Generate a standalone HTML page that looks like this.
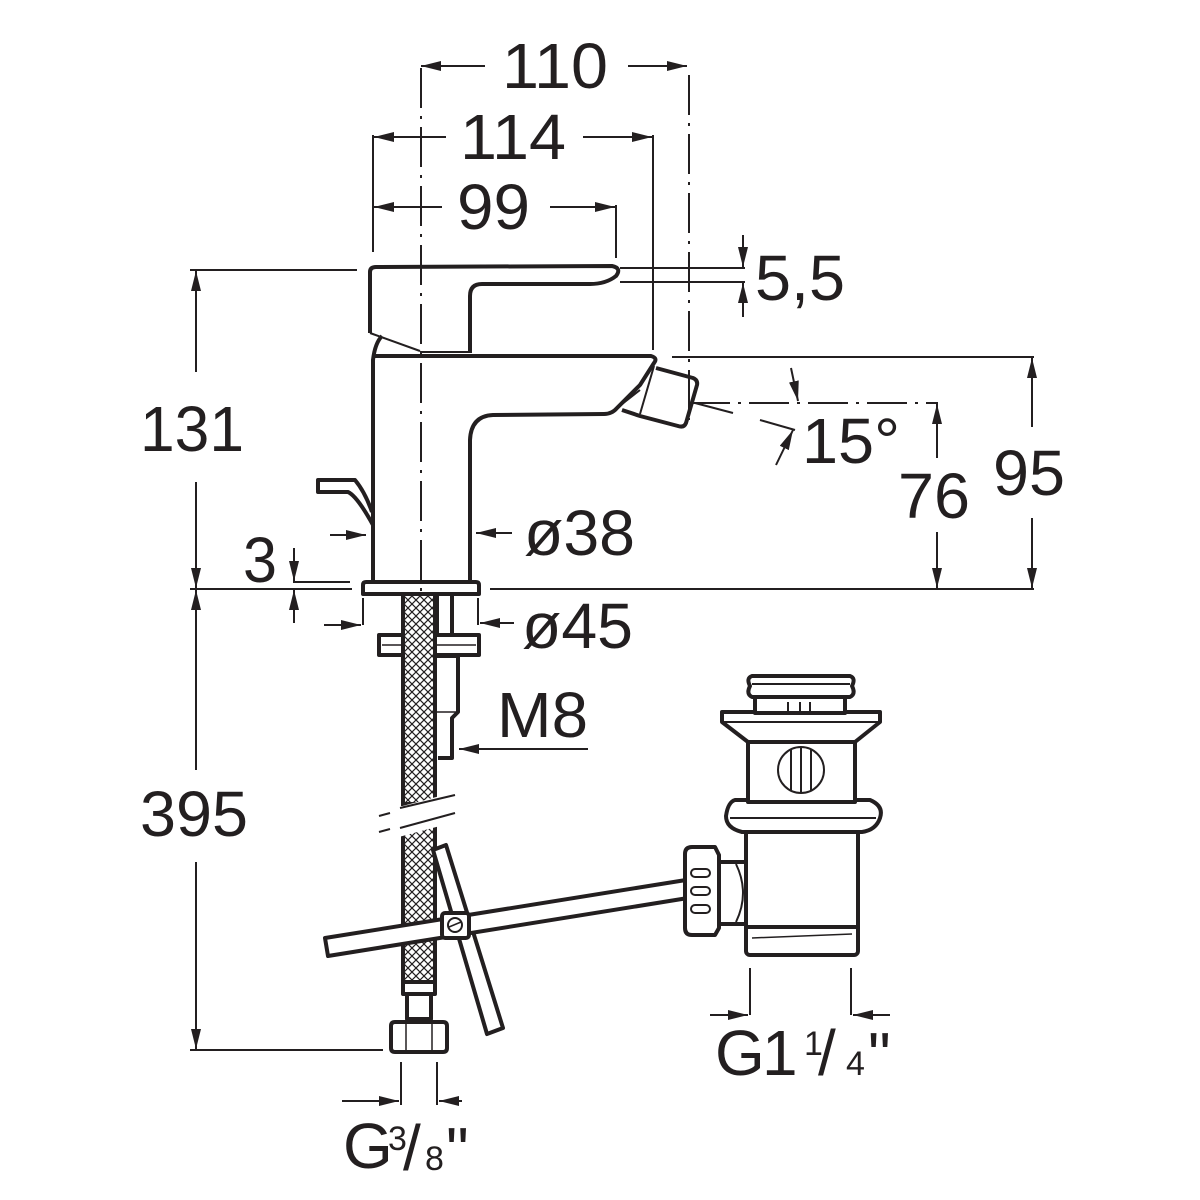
<!DOCTYPE html>
<html><head><meta charset="utf-8"><style>
html,body{margin:0;padding:0;background:#fff;}
svg{display:block;}
text{font-family:"Liberation Sans",Arial,sans-serif;fill:#231f20;}
</style></head><body>
<svg width="1200" height="1200" viewBox="0 0 1200 1200" xmlns="http://www.w3.org/2000/svg">
<defs>
<pattern id="hatch" width="8" height="8" patternUnits="userSpaceOnUse">
<rect width="8" height="8" fill="#fff"/>
<path d="M0 0L8 8M8 0L0 8" stroke="#231f20" stroke-width="1.2"/>
</pattern>
<marker id="ah" viewBox="0 0 20 10" refX="20" refY="5" markerWidth="20" markerHeight="10" markerUnits="userSpaceOnUse" orient="auto">
<path d="M0 0L20 5L0 10Z" fill="#231f20"/>
</marker>
</defs>
<g stroke="#231f20" fill="none" stroke-width="2">
<line x1="421" y1="68" x2="421" y2="1060" stroke-dasharray="40,8,3,8"/>
<line x1="689" y1="75" x2="689" y2="420" stroke-dasharray="40,8,3,8"/>
<line x1="690" y1="403" x2="938" y2="403" stroke-dasharray="40,8,3,8"/>
<line x1="373" y1="135" x2="373" y2="252"/>
<line x1="653" y1="135" x2="653" y2="350"/>
<line x1="616" y1="205" x2="616" y2="258"/>
<line x1="190" y1="270" x2="357" y2="270"/>
<line x1="190" y1="589" x2="352" y2="589"/>
<line x1="490" y1="589" x2="1034" y2="589"/>
<line x1="672" y1="357" x2="1034" y2="357"/>
<line x1="620" y1="268" x2="745" y2="268"/>
<line x1="620" y1="282" x2="745" y2="282"/>
<line x1="293" y1="582" x2="350" y2="582"/>
<line x1="190" y1="1050" x2="383" y2="1050"/>
<line x1="363" y1="598" x2="363" y2="625"/>
<line x1="478" y1="598" x2="478" y2="625"/>
<line x1="401" y1="1062" x2="401" y2="1105"/>
<line x1="437" y1="1062" x2="437" y2="1105"/>
<line x1="750" y1="968" x2="750" y2="1015"/>
<line x1="851" y1="968" x2="851" y2="1015"/>
<line x1="485" y1="66" x2="421" y2="66" marker-end="url(#ah)"/>
<line x1="628" y1="66" x2="687" y2="66" marker-end="url(#ah)"/>
<line x1="446" y1="137" x2="374" y2="137" marker-end="url(#ah)"/>
<line x1="583" y1="137" x2="652" y2="137" marker-end="url(#ah)"/>
<line x1="442" y1="207" x2="374" y2="207" marker-end="url(#ah)"/>
<line x1="550" y1="207" x2="615" y2="207" marker-end="url(#ah)"/>
<line x1="743" y1="235" x2="743" y2="267" marker-end="url(#ah)"/>
<line x1="743" y1="317" x2="743" y2="283" marker-end="url(#ah)"/>
<line x1="196" y1="372" x2="196" y2="271" marker-end="url(#ah)"/>
<line x1="196" y1="482" x2="196" y2="588" marker-end="url(#ah)"/>
<line x1="196" y1="770" x2="196" y2="590" marker-end="url(#ah)"/>
<line x1="196" y1="862" x2="196" y2="1049" marker-end="url(#ah)"/>
<line x1="294" y1="548" x2="294" y2="581" marker-end="url(#ah)"/>
<line x1="294" y1="623" x2="294" y2="590" marker-end="url(#ah)"/>
<line x1="330" y1="535" x2="366" y2="535" marker-end="url(#ah)"/>
<line x1="512" y1="533" x2="476" y2="533" marker-end="url(#ah)"/>
<line x1="324" y1="625" x2="361" y2="625" marker-end="url(#ah)"/>
<line x1="514" y1="623" x2="480" y2="623" marker-end="url(#ah)"/>
<line x1="588" y1="749" x2="459" y2="749" marker-end="url(#ah)"/>
<line x1="1032" y1="427" x2="1032" y2="358" marker-end="url(#ah)"/>
<line x1="1032" y1="518" x2="1032" y2="588" marker-end="url(#ah)"/>
<line x1="937" y1="458" x2="937" y2="404" marker-end="url(#ah)"/>
<line x1="937" y1="532" x2="937" y2="588" marker-end="url(#ah)"/>
<line x1="791" y1="368" x2="798" y2="401" marker-end="url(#ah)"/>
<line x1="776" y1="465" x2="793" y2="430" marker-end="url(#ah)"/>
<line x1="695" y1="403" x2="733" y2="413"/>
<line x1="760" y1="420" x2="795" y2="430"/>
<line x1="342" y1="1101" x2="399" y2="1101" marker-end="url(#ah)"/>
<line x1="462" y1="1101" x2="439" y2="1101" marker-end="url(#ah)"/>
<line x1="710" y1="1015" x2="748" y2="1015" marker-end="url(#ah)"/>
<line x1="890" y1="1015" x2="853" y2="1015" marker-end="url(#ah)"/>
</g>
<g stroke="#231f20" fill="none" stroke-width="4" stroke-linejoin="round">
<path d="M370 333 L370 272 Q370 267 376 267 L612 266 Q622 268 616 276 Q606 284 590 284 L482 284 Q470 284 470 296 L470 353" />
<path d="M370 333 L420 351" stroke-width="2"/>
<line x1="420" y1="352" x2="470" y2="352" stroke-width="2"/>
<path d="M373 580 L373 360 Q375 343 382 336" />
<path d="M373 356 L651 356 Q658 358 654 363 L640 385 L617 408 Q612 414 604 414 L493 415 Q471 416 470 440 L470 580" />
<path d="M656 368 L693 378 Q698 380 697 385 L686 423 Q684 428 678 426 L640 416 L622 410" />
<line x1="654" y1="366" x2="640" y2="414" stroke-width="2"/>
<line x1="640" y1="390" x2="617" y2="408" stroke-width="2"/>
<path d="M372 512 Q365 492 355 480 L318 480 L318 492 L348 492 Q357 496 373 525" />
<path d="M366 582 L476 582 Q479 582 479 585 L479 594 L363 594 L363 585 Q363 582 366 582Z"/>
<path d="M437 594 L437 635 M452 594 L452 635" />
<rect x="379" y="635" width="100" height="20" />
<line x1="382" y1="645" x2="476" y2="645" stroke-width="1.5"/>
<path d="M437 656 L458 656 L458 712 L452 718 L452 758 L438 758" />
<line x1="437" y1="712" x2="458" y2="712" stroke-width="1.5"/>
</g>
<rect x="403" y="594" width="32" height="210" fill="url(#hatch)" stroke="#231f20" stroke-width="4"/>
<rect x="403" y="822" width="32" height="160" fill="url(#hatch)" stroke="#231f20" stroke-width="4"/>
<polygon points="395,808 455,792 455,822 395,838" fill="#fff"/>
<g stroke="#231f20" stroke-width="2">
<line x1="400" y1="808" x2="455" y2="795"/>
<line x1="400" y1="828" x2="455" y2="813"/>
<line x1="379" y1="816" x2="390" y2="813"/>
<line x1="379" y1="832" x2="390" y2="829"/>
</g>
<g stroke="#231f20" fill="#fff" stroke-width="4" stroke-linejoin="round">
<polygon points="433,850 446,845 503,1028 487,1034"/>
<polygon points="325,938 686,880 688,898 328,956"/>
<rect x="442" y="913" width="27" height="25" rx="3"/>
<circle cx="455" cy="925" r="7" stroke-width="2"/>
<line x1="449" y1="927" x2="461" y2="922" stroke-width="1.5"/>
<rect x="403" y="982" width="32" height="12"/>
<rect x="407" y="994" width="24" height="25"/>
<path d="M395 1022 L443 1022 Q447 1022 447 1026 L447 1048 Q447 1052 443 1052 L395 1052 Q391 1052 391 1048 L391 1026 Q391 1022 395 1022Z"/>
<line x1="406" y1="1024" x2="406" y2="1050" stroke-width="1.5"/>
<line x1="432" y1="1024" x2="432" y2="1050" stroke-width="1.5"/>
<rect x="746" y="867" width="112" height="88" rx="4"/>
<line x1="750" y1="927" x2="854" y2="927" stroke-width="2"/>
<line x1="752" y1="938" x2="852" y2="934" stroke-width="1.5"/>
<rect x="746" y="830" width="112" height="97"/>
<path d="M735 800 L870 800 Q884 806 880 818 Q876 830 862 832 L742 832 Q726 828 726 816 Q728 802 735 800Z"/>
<line x1="730" y1="818" x2="876" y2="818" stroke-width="2"/>
<rect x="748" y="740" width="107" height="62"/>
<path d="M722 712 L880 712 L880 722 L855 742 L748 742 L722 722Z"/>
<line x1="724" y1="722" x2="878" y2="722" stroke-width="2"/>
<rect x="755" y="697" width="90" height="16"/>
<line x1="788" y1="702" x2="788" y2="713" stroke-width="2"/>
<line x1="800" y1="702" x2="800" y2="713" stroke-width="2"/>
<line x1="810" y1="702" x2="810" y2="713" stroke-width="2"/>
<path d="M752 676 L850 676 Q856 678 852 686 Q856 694 850 697 L752 697 Q746 694 750 686 Q746 678 752 676Z"/>
<line x1="752" y1="684" x2="850" y2="684" stroke-width="2"/>
<ellipse cx="801" cy="770" rx="23" ry="23" stroke-width="2"/>
<line x1="791" y1="749" x2="791" y2="791" stroke-width="2"/>
<line x1="801" y1="747" x2="801" y2="793" stroke-width="2"/>
<line x1="811" y1="749" x2="811" y2="791" stroke-width="2"/>
<path d="M716 862 L746 862 L746 924 L716 924Z"/>
<path d="M736 864 Q750 893 736 922" stroke-width="2"/>
<path d="M692 847 L715 847 L719 855 L719 928 L715 935 L692 935 Q685 935 685 928 L685 854 Q685 847 692 847Z"/>
<rect x="691" y="869" width="19" height="8" rx="4" stroke-width="2"/>
<rect x="691" y="887" width="19" height="8" rx="4" stroke-width="2"/>
<rect x="691" y="905" width="19" height="8" rx="4" stroke-width="2"/>
</g>
<g font-size="64">
<text x="502" y="88" textLength="106" lengthAdjust="spacingAndGlyphs">110</text>
<text x="460" y="159" textLength="106" lengthAdjust="spacingAndGlyphs">114</text>
<text x="457" y="229" textLength="73" lengthAdjust="spacingAndGlyphs">99</text>
<text x="755" y="300" textLength="90" lengthAdjust="spacingAndGlyphs">5,5</text>
<text x="140" y="451" textLength="104" lengthAdjust="spacingAndGlyphs">131</text>
<text x="802" y="463" textLength="98" lengthAdjust="spacingAndGlyphs">15°</text>
<text x="898" y="518" textLength="72" lengthAdjust="spacingAndGlyphs">76</text>
<text x="993" y="495" textLength="72" lengthAdjust="spacingAndGlyphs">95</text>
<text x="243" y="582" textLength="34" lengthAdjust="spacingAndGlyphs">3</text>
<text x="524" y="555" textLength="111" lengthAdjust="spacingAndGlyphs">ø38</text>
<text x="522" y="648" textLength="111" lengthAdjust="spacingAndGlyphs">ø45</text>
<text x="497" y="737" textLength="91" lengthAdjust="spacingAndGlyphs">M8</text>
<text x="140" y="836" textLength="108" lengthAdjust="spacingAndGlyphs">395</text>
<text x="343" y="1168">G</text>
<text x="715" y="1075">G</text>
<text x="762" y="1075">1</text>
</g>
<text x="388" y="1150" font-size="34">3</text>
<text x="403" y="1170" font-size="64">/</text>
<text x="425" y="1170" font-size="34">8</text>
<text x="446" y="1172" font-size="64">"</text>
<text x="804" y="1055" font-size="34">1</text>
<text x="818" y="1075" font-size="64">/</text>
<text x="846" y="1075" font-size="34">4</text>
<text x="868" y="1077" font-size="64">"</text>
</svg>
</body></html>
